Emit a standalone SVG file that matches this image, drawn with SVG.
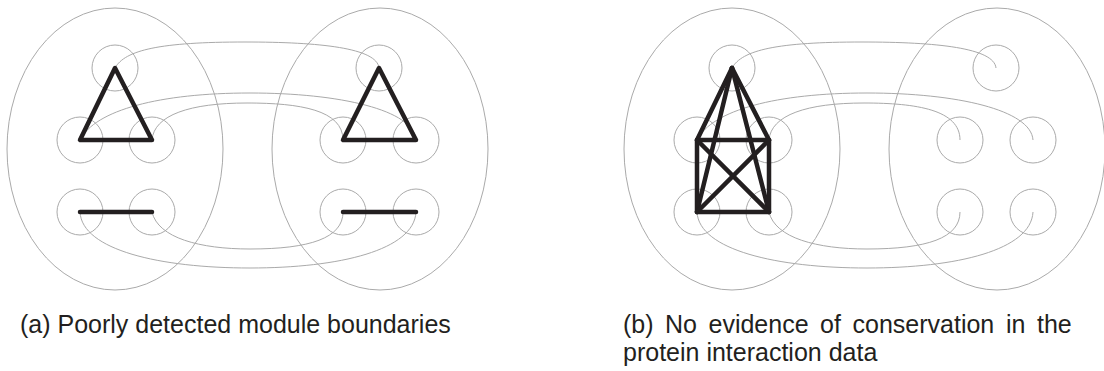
<svg xmlns="http://www.w3.org/2000/svg" width="1104" height="371" viewBox="0 0 1104 371">
<style>
.mod{fill:none;stroke:#aaaaaa;stroke-width:1}
.nd{fill:none;stroke:#aaaaaa;stroke-width:1}
.cn{fill:none;stroke:#aaaaaa;stroke-width:1}
.ed{stroke:#231f20;stroke-width:4.5;stroke-linecap:round;fill:none}
.lb{font-family:"Liberation Sans",Arial,sans-serif;font-size:25px;fill:#231f20}
</style>
<rect width="1104" height="371" fill="#ffffff"/>
<g id="panel-a">
  <g id="a-module-left"><ellipse class="mod" cx="115" cy="149" rx="108" ry="141"/></g>
  <g id="a-module-right"><ellipse class="mod" cx="380" cy="149" rx="108" ry="141"/></g>
  <g id="a-connectors">
    <path class="cn" d="M115,68 C125,50 160,42 245,42 C320,42 377,48 379,68"/>
    <path class="cn" d="M80,140 C95,110 160,93 250,93 C340,93 414,110 416,140"/>
    <path class="cn" d="M152,140 C154,115 190,103 247,103 C300,103 343,110 343,140"/>
    <path class="cn" d="M152,212 C158,238 200,249 250,249 C310,249 343,238 343,212"/>
    <path class="cn" d="M80,212 C82,250 160,268 250,268 C340,268 414,250 416,212"/>
  </g>
  <g id="a-n1"><circle class="nd" cx="115" cy="68" r="23"/></g>
  <g id="a-n2"><circle class="nd" cx="80" cy="140" r="23"/></g>
  <g id="a-n3"><circle class="nd" cx="152" cy="140" r="23"/></g>
  <g id="a-n4"><circle class="nd" cx="80" cy="212" r="23"/></g>
  <g id="a-n5"><circle class="nd" cx="152" cy="212" r="23"/></g>
  <g id="a-m1"><circle class="nd" cx="379" cy="68" r="23"/></g>
  <g id="a-m2"><circle class="nd" cx="343" cy="140" r="23"/></g>
  <g id="a-m3"><circle class="nd" cx="416" cy="140" r="23"/></g>
  <g id="a-m4"><circle class="nd" cx="343" cy="212" r="23"/></g>
  <g id="a-m5"><circle class="nd" cx="416" cy="212" r="23"/></g>
  <g id="a-edges">
    <path class="ed" d="M115,68 L80,140 L152,140 Z" stroke-linejoin="round"/>
    <line class="ed" x1="80" y1="212" x2="152" y2="212"/>
    <path class="ed" d="M379,68 L343,140 L416,140 Z" stroke-linejoin="round"/>
    <line class="ed" x1="343" y1="212" x2="416" y2="212"/>
  </g>
</g>
<g id="panel-b" transform="translate(617,0)">
  <g id="b-module-left"><ellipse class="mod" cx="115" cy="149" rx="108" ry="141"/></g>
  <g id="b-module-right"><ellipse class="mod" cx="380" cy="149" rx="108" ry="141"/></g>
  <g id="b-connectors">
    <path class="cn" d="M115,68 C125,50 160,42 245,42 C320,42 377,48 379,68"/>
    <path class="cn" d="M80,140 C95,110 160,93 250,93 C340,93 414,110 416,140"/>
    <path class="cn" d="M152,140 C154,115 190,103 247,103 C300,103 343,110 343,140"/>
    <path class="cn" d="M152,212 C158,238 200,249 250,249 C310,249 343,238 343,212"/>
    <path class="cn" d="M80,212 C82,250 160,268 250,268 C340,268 414,250 416,212"/>
  </g>
  <g id="b-n1"><circle class="nd" cx="115" cy="68" r="23"/></g>
  <g id="b-n2"><circle class="nd" cx="80" cy="140" r="23"/></g>
  <g id="b-n3"><circle class="nd" cx="152" cy="140" r="23"/></g>
  <g id="b-n4"><circle class="nd" cx="80" cy="212" r="23"/></g>
  <g id="b-n5"><circle class="nd" cx="152" cy="212" r="23"/></g>
  <g id="b-m1"><circle class="nd" cx="379" cy="68" r="23"/></g>
  <g id="b-m2"><circle class="nd" cx="343" cy="140" r="23"/></g>
  <g id="b-m3"><circle class="nd" cx="416" cy="140" r="23"/></g>
  <g id="b-m4"><circle class="nd" cx="343" cy="212" r="23"/></g>
  <g id="b-m5"><circle class="nd" cx="416" cy="212" r="23"/></g>
  <g id="b-edges">
    <line class="ed" x1="115" y1="68" x2="80" y2="140"/>
    <line class="ed" x1="115" y1="68" x2="152" y2="140"/>
    <line class="ed" x1="115" y1="68" x2="80" y2="212"/>
    <line class="ed" x1="115" y1="68" x2="152" y2="212"/>
    <rect class="ed" x="80" y="140" width="72" height="72" stroke-linejoin="round"/>
    <line class="ed" x1="80" y1="140" x2="152" y2="212"/>
    <line class="ed" x1="152" y1="140" x2="80" y2="212"/>
  </g>
</g>
<g id="captions">
  <text class="lb" x="20" y="333">(a) Poorly detected module boundaries</text>
  <text class="lb" y="333"><tspan x="623">(b)</tspan><tspan x="665">No</tspan><tspan x="708.5">evidence</tspan><tspan x="820">of</tspan><tspan x="852.5">conservation</tspan><tspan x="1006">in</tspan><tspan x="1037">the</tspan></text>
  <text class="lb" x="623" y="361">protein interaction data</text>
</g>
</svg>
